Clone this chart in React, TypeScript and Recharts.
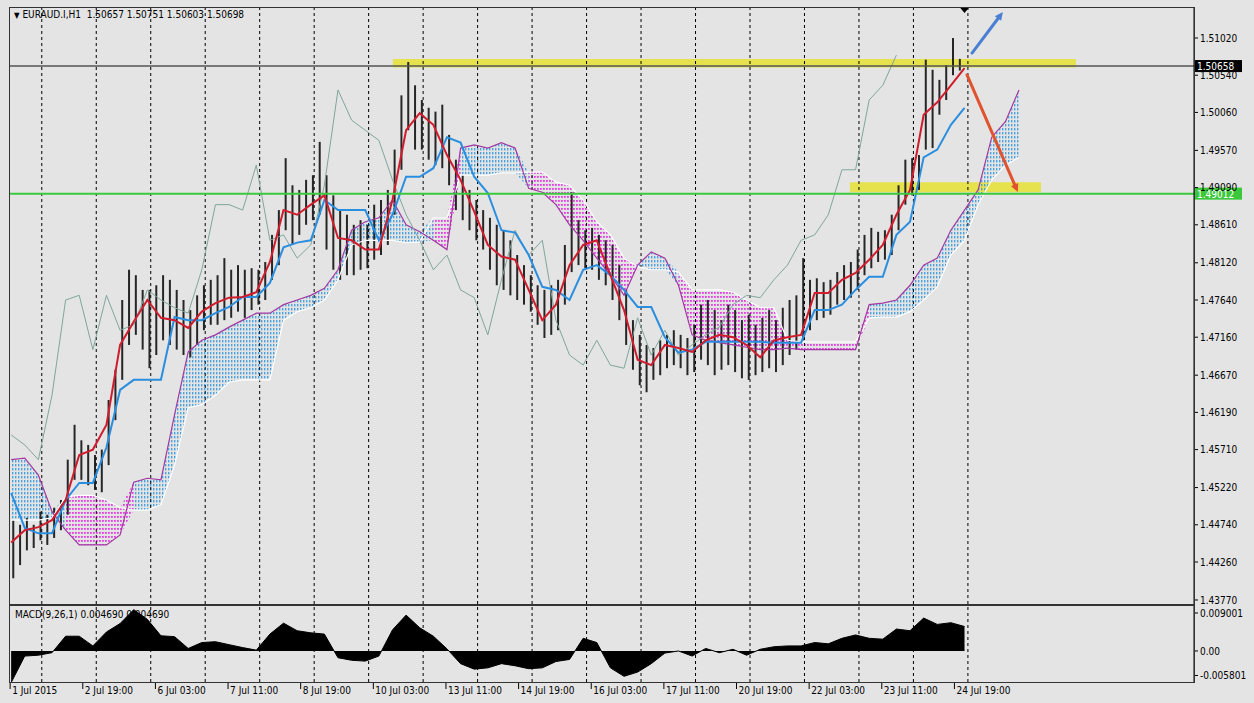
import React from "react"
import {
  Area,
  Bar,
  ComposedChart,
  Line,
  ReferenceArea,
  ReferenceDot,
  ReferenceLine,
  XAxis,
  YAxis,
} from "recharts"

const BG = "#e4e4e4"
const FONT = "'DejaVu Sans Condensed', 'DejaVu Sans', sans-serif"

// EURAUD H1, bars grouped by 3 hours (1 Jul 11:00 .. 24 Jul 23:00)
const candleHigh = [
  1.4480, 1.4474, 1.4483, 1.4474, 1.4491, 1.4487, 1.4496, 1.4506, 1.4558, 1.4603,
  1.4583, 1.4577, 1.4564, 1.4571, 1.4635, 1.4674, 1.4764, 1.4803, 1.4796, 1.4777,
  1.4777, 1.4783, 1.4796, 1.4790, 1.4777, 1.4764, 1.4751, 1.4770, 1.4783, 1.4790,
  1.4796, 1.4818, 1.4803, 1.4809, 1.4803, 1.4805, 1.4803, 1.4813, 1.4848, 1.4880,
  1.4947, 1.4912, 1.4906, 1.4919, 1.4925, 1.4968, 1.4925, 1.4899, 1.4880, 1.4874,
  1.4861, 1.4867, 1.4861, 1.4887, 1.4893, 1.4906, 1.4958, 1.5028, 1.5071, 1.5041,
  1.5022, 1.5012, 1.5007, 1.5016, 1.4977, 1.4945, 1.4925, 1.4906, 1.4893, 1.4880,
  1.4870, 1.4861, 1.4854, 1.4841, 1.4822, 1.4809, 1.4796, 1.4783, 1.4777, 1.4783,
  1.4790, 1.4835, 1.4903, 1.4867, 1.4854, 1.4857, 1.4848, 1.4841, 1.4835, 1.4809,
  1.4777, 1.4738, 1.4719, 1.4706, 1.4702, 1.4712, 1.4719, 1.4725, 1.4719, 1.4715,
  1.4732, 1.4758, 1.4764, 1.4751, 1.4738, 1.4758, 1.4751, 1.4738, 1.4745, 1.4732,
  1.4741, 1.4751, 1.4738, 1.4754, 1.4764, 1.4770, 1.4818, 1.4790, 1.4792, 1.4787,
  1.4790, 1.4800, 1.4809, 1.4813, 1.4829, 1.4848, 1.4857, 1.4852, 1.4854, 1.4874,
  1.4912, 1.4945, 1.4947, 1.4951, 1.5074, 1.5061, 1.5048, 1.5067, 1.5102, 1.5075,
]
const candleLow = [
  1.4405, 1.4422, 1.4441, 1.4444, 1.4454, 1.4448, 1.4457, 1.4467, 1.4487, 1.4532,
  1.4532, 1.4525, 1.4519, 1.4516, 1.4551, 1.4609, 1.4661, 1.4706, 1.4719, 1.4700,
  1.4676, 1.4693, 1.4712, 1.4706, 1.4700, 1.4693, 1.4690, 1.4706, 1.4725, 1.4732,
  1.4732, 1.4738, 1.4741, 1.4749, 1.4741, 1.4751, 1.4758, 1.4764, 1.4790, 1.4809,
  1.4854, 1.4835, 1.4848, 1.4861, 1.4867, 1.4874, 1.4829, 1.4803, 1.4790, 1.4796,
  1.4796, 1.4803, 1.4805, 1.4816, 1.4822, 1.4835, 1.4874, 1.4932, 1.4983, 1.4958,
  1.4958, 1.4945, 1.4938, 1.4934, 1.4912, 1.4880, 1.4867, 1.4854, 1.4841, 1.4829,
  1.4803, 1.4783, 1.4777, 1.4770, 1.4764, 1.4758, 1.4749, 1.4732, 1.4715, 1.4719,
  1.4725, 1.4758, 1.4800, 1.4809, 1.4805, 1.4803, 1.4790, 1.4783, 1.4764, 1.4738,
  1.4706, 1.4674, 1.4654, 1.4645, 1.4661, 1.4667, 1.4676, 1.4680, 1.4676, 1.4667,
  1.4671, 1.4687, 1.4680, 1.4667, 1.4674, 1.4680, 1.4671, 1.4663, 1.4661, 1.4667,
  1.4671, 1.4676, 1.4671, 1.4680, 1.4693, 1.4700, 1.4712, 1.4725, 1.4738, 1.4741,
  1.4745, 1.4758, 1.4764, 1.4767, 1.4777, 1.4796, 1.4805, 1.4813, 1.4816, 1.4822,
  1.4854, 1.4887, 1.4899, 1.4906, 1.4958, 1.4960, 1.5003, 1.5022, 1.5054, 1.5060,
]

// Ichimoku(9,26,52), sampled every 6 hours
const tenkan = [
  1.4451, 1.4467, 1.4471, 1.4480, 1.4506, 1.4564, 1.4571, 1.4603, 1.4706, 1.4736,
  1.4764, 1.4741, 1.4738, 1.4728, 1.4749, 1.4760, 1.4767, 1.4768, 1.4774, 1.4813,
  1.4880, 1.4874, 1.4887, 1.4899, 1.4844, 1.4841, 1.4829, 1.4829, 1.4893, 1.4983,
  1.5005, 1.4990, 1.4951, 1.4919, 1.4878, 1.4835, 1.4820, 1.4816, 1.4777, 1.4738,
  1.4758, 1.4809, 1.4835, 1.4841, 1.4796, 1.4751, 1.4687, 1.4680, 1.4706, 1.4702,
  1.4697, 1.4712, 1.4719, 1.4716, 1.4706, 1.4690, 1.4712, 1.4716, 1.4719, 1.4773,
  1.4773, 1.4790, 1.4799, 1.4816, 1.4835, 1.4874, 1.4906, 1.5003, 1.5019, 1.5041,
  1.5063,
]
const kijun = [
  1.4515, 1.4470, 1.4463, 1.4463, 1.4506, 1.4528, 1.4528, 1.4574, 1.4648, 1.4661,
  1.4661, 1.4661, 1.4742, 1.4738, 1.4738, 1.4747, 1.4755, 1.4768, 1.4768, 1.4786,
  1.4832, 1.4838, 1.4841, 1.4893, 1.4880, 1.4880, 1.4880, 1.4841, 1.4874, 1.4923,
  1.4923, 1.4934, 1.4974, 1.4967, 1.4923, 1.4902, 1.4854, 1.4851, 1.4822, 1.4781,
  1.4777, 1.4764, 1.4803, 1.4809, 1.4796, 1.4777, 1.4755, 1.4755, 1.4716, 1.4696,
  1.4700, 1.4710, 1.4710, 1.4710, 1.4710, 1.4710, 1.4709, 1.4709, 1.4709, 1.4751,
  1.4751, 1.4758, 1.4777, 1.4794, 1.4794, 1.4848, 1.4865, 1.4948, 1.4958, 1.4990,
  1.5012,
]
const chikou = [
  1.4590, 1.4577, 1.4558, 1.4641, 1.4764, 1.4770, 1.4700, 1.4770, 1.4725, 1.4732,
  1.4777, 1.4764, 1.4754, 1.4747, 1.4803, 1.4887, 1.4887, 1.4880, 1.4938, 1.4841,
  1.4848, 1.4818, 1.4835, 1.4912, 1.5035, 1.4996, 1.4983, 1.4970, 1.4919, 1.4874,
  1.4841, 1.4803, 1.4822, 1.4777, 1.4767, 1.4719, 1.4790, 1.4854, 1.4822, 1.4841,
  1.4738, 1.4693, 1.4680, 1.4712, 1.4680, 1.4676, 1.4741, 1.4693, 1.4725, 1.4693,
  1.4706, 1.4719, 1.4729, 1.4758, 1.4770, 1.4767, 1.4790, 1.4809, 1.4841, 1.4848,
  1.4874, 1.4932, 1.4932, 1.5022, 1.5041, 1.5080,
]
const spanA = [
  1.4558, 1.4560, 1.4538, 1.4491, 1.4467, 1.4448, 1.4448, 1.4448, 1.4461, 1.4529,
  1.4534, 1.4532, 1.4616, 1.4697, 1.4712, 1.4719, 1.4729, 1.4738, 1.4747, 1.4747,
  1.4758, 1.4764, 1.4770, 1.4779, 1.4803, 1.4854, 1.4865, 1.4870, 1.4893, 1.4861,
  1.4852, 1.4841, 1.4829, 1.4960, 1.4964, 1.4960, 1.4967, 1.4960, 1.4908, 1.4903,
  1.4887, 1.4861, 1.4841, 1.4818, 1.4796, 1.4770, 1.4809, 1.4826, 1.4818, 1.4783,
  1.4719, 1.4712, 1.4709, 1.4706, 1.4703, 1.4700, 1.4700, 1.4702, 1.4700, 1.4700,
  1.4700, 1.4700, 1.4700, 1.4758, 1.4760, 1.4764, 1.4783, 1.4809, 1.4818, 1.4854,
  1.4880, 1.4906, 1.4974, 1.4994, 1.5035,
]
const spanB = [
  1.4480, 1.4480, 1.4480, 1.4483, 1.4510, 1.4512, 1.4512, 1.4506, 1.4496, 1.4493,
  1.4493, 1.4500, 1.4551, 1.4625, 1.4629, 1.4641, 1.4658, 1.4661, 1.4661, 1.4661,
  1.4738, 1.4749, 1.4754, 1.4764, 1.4790, 1.4835, 1.4841, 1.4841, 1.4841, 1.4838,
  1.4839, 1.4870, 1.4870, 1.4925, 1.4925, 1.4925, 1.4928, 1.4928, 1.4929, 1.4929,
  1.4916, 1.4912, 1.4893, 1.4865, 1.4848, 1.4818, 1.4807, 1.4803, 1.4803, 1.4800,
  1.4777, 1.4777, 1.4777, 1.4774, 1.4764, 1.4754, 1.4754, 1.4712, 1.4710, 1.4710,
  1.4710, 1.4710, 1.4710, 1.4741, 1.4742, 1.4742, 1.4749, 1.4764, 1.4781, 1.4822,
  1.4841, 1.4887, 1.4919, 1.4938, 1.4948,
]

// MACD(9,26,1), sampled every 6 hours
const macd = [
  -0.0075, -0.0012, -0.0010, -0.0004, 0.0035, 0.0035, 0.0012, 0.0045, 0.0065, 0.0098,
  0.0075, 0.0036, 0.0034, 0.0006, 0.0020, 0.0022, 0.0015, 0.0008, 0.0002, 0.0040,
  0.0066, 0.0048, 0.0043, 0.0040, -0.0016, -0.0022, -0.0024, -0.0012, 0.0050, 0.0085,
  0.0055, 0.0035, 0.0005, -0.0030, -0.0043, -0.0040, -0.0030, -0.0035, -0.0042, -0.0040,
  -0.0025, -0.0020, 0.0030, 0.0020, -0.0040, -0.0060, -0.0050, -0.0030, -0.0005, 0.0000,
  -0.0012, 0.0006, -0.0004, 0.0004, -0.0010, 0.0004, 0.0010, 0.0012, 0.0012, 0.0020,
  0.0017, 0.0030, 0.0038, 0.0030, 0.0028, 0.0052, 0.0048, 0.0078, 0.0063, 0.0067,
  0.0058,
]

const priceTicks = [
  1.4377, 1.4426, 1.4474, 1.4522, 1.4571, 1.4619, 1.4667, 1.4716,
  1.4764, 1.4812, 1.4861, 1.4909, 1.4957, 1.5006, 1.5054, 1.5102,
]
const macdTicks = [-0.005801, 0, 0.009001]
const dateLabels = [
  "1 Jul 2015", "2 Jul 19:00", "6 Jul 03:00", "7 Jul 11:00", "8 Jul 19:00",
  "10 Jul 03:00", "13 Jul 11:00", "14 Jul 19:00", "16 Jul 03:00", "17 Jul 11:00",
  "20 Jul 19:00", "22 Jul 03:00", "23 Jul 11:00", "24 Jul 19:00",
]
const LABEL_STEP = 32 // bars between time labels
const currentPrice = 1.50658
const supportLevel = 1.49012
const X_DOMAIN = [-0.5, 521.1]

const candles = candleHigh.map((high, k) => ({ t: 3 * k + 1, range: [candleLow[k], high] }))
const rowsOf = (vals: number[]) => vals.map((v, j) => ({ t: 6 * j, v }))

const cloud = spanA.map((a, j) => {
  const b = spanB[j]
  const up = a >= b
  const prevUp = j > 0 ? spanA[j - 1] >= spanB[j - 1] : up
  const band = [Math.min(a, b), Math.max(a, b)]
  return { t: 6 * j, a, b, bull: up || prevUp ? band : null, bear: !up || !prevUp ? band : null }
})

const separators = Array.from({ length: 18 }, (_, k) => 13.5 + 24 * k)

function PriceTag({ viewBox, text, bg }: any) {
  if (!viewBox) return null
  const { x, y, width } = viewBox
  return (
    <g>
      <rect x={x + width + 1} y={y - 6} width={47} height={12} fill={bg} />
      <text x={x + width + 3} y={y + 4} fill="#fff" fontSize={10} fontFamily={FONT}>
        {text}
      </text>
    </g>
  )
}

const arrow = (color: string) => (p: any) => {
  const { x1, y1, x2, y2 } = p
  const ang = Math.atan2(y2 - y1, x2 - x1)
  const len = 9
  const wing = 0.45
  const ax = x2 - len * Math.cos(ang - wing)
  const ay = y2 - len * Math.sin(ang - wing)
  const bx = x2 - len * Math.cos(ang + wing)
  const by = y2 - len * Math.sin(ang + wing)
  return (
    <g>
      <line x1={x1} y1={y1} x2={x2 - 4 * Math.cos(ang)} y2={y2 - 4 * Math.sin(ang)} stroke={color} strokeWidth={3} strokeLinecap="round" />
      <polygon points={`${x2},${y2} ${ax},${ay} ${bx},${by}`} fill={color} />
    </g>
  )
}

function TimeTick({ x, y, payload }: any) {
  const label = dateLabels[Math.round(payload.value / LABEL_STEP)]
  return (
    <g>
      <line x1={x - 1} x2={x - 1} y1={y + 1} y2={y + 7} stroke="#000" />
      <text x={x + 1} y={y + 12} fontSize={10} fontFamily={FONT} fill="#000">
        {label}
      </text>
    </g>
  )
}

const axisTick = { fill: "#000", fontSize: 10, fontFamily: FONT }

export default function App(): React.JSX.Element {
  return (
    <div style={{ position: "absolute", left: 0, top: 0, width: 1254, height: 703, background: BG, overflow: "hidden" }}>
      <ComposedChart
        width={1254}
        height={606}
        data={candles}
        margin={{ top: 8, right: 0, left: 10, bottom: 2 }}
        style={{ position: "absolute", left: 0, top: 0 }}
      >
        <defs>
          <pattern id="bullHatch" width="3" height="4" patternUnits="userSpaceOnUse">
            <rect x="0" y="0" width="1.4" height="2.4" fill="#4aa3df" />
          </pattern>
          <pattern id="bearHatch" width="3" height="4" patternUnits="userSpaceOnUse">
            <rect x="0" y="0" width="1.8" height="1.8" fill="#e23ce2" />
          </pattern>
        </defs>
        <XAxis type="number" dataKey="t" domain={X_DOMAIN} hide allowDataOverflow />
        <YAxis
          orientation="right"
          type="number"
          domain={[1.43718, 1.51407]}
          ticks={priceTicks}
          interval={0}
          tickFormatter={(v: number) => v.toFixed(5)}
          width={60}
          tickSize={4}
          tick={axisTick}
          axisLine={{ stroke: "#000" }}
          tickLine={{ stroke: "#000" }}
          allowDataOverflow
        />
        <ReferenceArea x1={168.2} x2={469.1} y1={1.5064} y2={1.5075} fill="#e6e13c" fillOpacity={0.9} stroke="none" />
        <ReferenceArea x1={369.5} x2={453.7} y1={1.4903} y2={1.4916} fill="#e6e13c" fillOpacity={0.9} stroke="none" />
        {separators.map((x) => (
          <ReferenceLine key={x} x={x} stroke="#000" strokeDasharray="3 3" />
        ))}
        <Area data={cloud} dataKey="bull" type="linear" fill="url(#bullHatch)" fillOpacity={1} stroke="none" isAnimationActive={false} />
        <Area data={cloud} dataKey="bear" type="linear" fill="url(#bearHatch)" fillOpacity={1} stroke="none" isAnimationActive={false} />
        <Line data={cloud} dataKey="b" type="linear" stroke="#ffffff" strokeWidth={1.2} dot={false} isAnimationActive={false} />
        <Line data={cloud} dataKey="a" type="linear" stroke="#a23aa2" strokeWidth={1.2} dot={false} isAnimationActive={false} />
        <Line data={rowsOf(chikou)} dataKey="v" type="linear" stroke="#7fa69c" strokeWidth={1} dot={false} isAnimationActive={false} />
        <Bar dataKey="range" barSize={2} fill="#262626" isAnimationActive={false} />
        <Line data={rowsOf(kijun)} dataKey="v" type="linear" stroke="#2a8ee0" strokeWidth={2} dot={false} isAnimationActive={false} />
        <Line data={rowsOf(tenkan)} dataKey="v" type="linear" stroke="#d01c2c" strokeWidth={2} dot={false} isAnimationActive={false} />
        <ReferenceLine y={currentPrice} stroke="#555" strokeWidth={1.5} label={<PriceTag text={currentPrice.toFixed(5)} bg="#000" />} />
        <ReferenceLine y={supportLevel} stroke="#3cc83c" strokeWidth={2} label={<PriceTag text={supportLevel.toFixed(5)} bg="#3cc83c" />} />
        <ReferenceLine segment={[{ x: 423.3, y: 1.50826 }, { x: 436.9, y: 1.51355 }]} shape={arrow("#4a7fd4")} />
        <ReferenceLine segment={[{ x: 421.1, y: 1.50543 }, { x: 443.5, y: 1.49033 }]} shape={arrow("#e0532f")} />
        <ReferenceDot
          x={420}
          y={1.5138}
          shape={(p: any) => <polygon points={`${p.cx - 5},${p.cy - 3} ${p.cx + 5},${p.cy - 3} ${p.cx},${p.cy + 3}`} fill="#000" />}
        />
      </ComposedChart>

      <ComposedChart
        width={1254}
        height={99}
        margin={{ top: 2, right: 0, left: 10, bottom: 0 }}
        style={{ position: "absolute", left: 0, top: 604 }}
      >
        <XAxis
          type="number"
          dataKey="t"
          domain={X_DOMAIN}
          ticks={dateLabels.map((_, i) => i * LABEL_STEP)}
          interval={0}
          height={21}
          tickSize={0}
          tickMargin={0}
          axisLine={false}
          tick={<TimeTick />}
          allowDataOverflow
        />
        <YAxis
          orientation="right"
          type="number"
          domain={[-0.00735, 0.01066]}
          ticks={macdTicks}
          interval={0}
          tickFormatter={(v: number) => (v === 0 ? "0.00" : v.toFixed(6))}
          width={60}
          tickSize={4}
          tick={axisTick}
          axisLine={{ stroke: "#000" }}
          tickLine={{ stroke: "#000" }}
          allowDataOverflow
        />
        {separators.map((x) => (
          <ReferenceLine key={x} x={x} stroke="#000" strokeDasharray="3 3" />
        ))}
        <Area data={rowsOf(macd)} dataKey="v" type="linear" baseValue={0} fill="#000" fillOpacity={1} stroke="#000" isAnimationActive={false} />
      </ComposedChart>

      {/* panel frames */}
      <div style={{ position: "absolute", left: 9, top: 7, width: 1186, height: 598, border: "1px solid #333", boxSizing: "border-box", pointerEvents: "none" }} />
      <div style={{ position: "absolute", left: 9, top: 605, width: 1186, height: 78, border: "1px solid #333", boxSizing: "border-box", pointerEvents: "none" }} />

      <div style={{ position: "absolute", left: 14, top: 9, fontFamily: FONT, fontSize: 10, color: "#000", whiteSpace: "pre" }}>
        <span style={{ fontSize: 8 }}>▼</span> EURAUD.I,H1  1.50657 1.50751 1.50603 1.50698
      </div>
      <div style={{ position: "absolute", left: 15, top: 609, fontFamily: FONT, fontSize: 10, color: "#000", whiteSpace: "pre" }}>
        MACD(9,26,1) 0.004690 0.004690
      </div>
    </div>
  )
}
